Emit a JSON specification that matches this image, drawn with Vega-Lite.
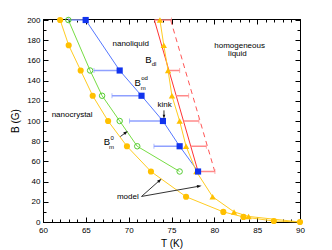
{
  "$schema": "https://vega.github.io/schema/vega-lite/v6.json",
  "autosize": "none",
  "width": 257,
  "height": 203,
  "padding": {"left": 43, "top": 19, "right": 32, "bottom": 28},
  "background": "white",
  "config": {
    "view": {"stroke": "black", "strokeWidth": 1},
    "font": "Liberation Sans",
    "axis": {"grid": false, "labelFont": "Liberation Sans", "titleFont": "Liberation Sans", "labelFontSize": 8, "titleFontSize": 10, "titleFontWeight": "normal", "domainColor": "black", "tickColor": "black", "labelColor": "black", "titleColor": "black"}
  },
  "datasets": {
    "nano": [
      {"T": 62.0, "B": 200}, {"T": 63.0, "B": 175}, {"T": 64.4, "B": 150}, {"T": 65.8, "B": 125},
      {"T": 67.6, "B": 100}, {"T": 69.8, "B": 75}, {"T": 72.6, "B": 50}, {"T": 76.7, "B": 25},
      {"T": 81.05, "B": 10}, {"T": 83.4, "B": 5}, {"T": 86.95, "B": 1}, {"T": 90.0, "B": 0}
    ],
    "tri": [
      {"T": 73.65, "B": 200}, {"T": 74.1, "B": 175}, {"T": 74.6, "B": 150}, {"T": 75.05, "B": 125},
      {"T": 75.95, "B": 100}, {"T": 76.7, "B": 75}, {"T": 77.9, "B": 50}, {"T": 79.8, "B": 25},
      {"T": 82.3, "B": 10}, {"T": 84.0, "B": 5.5}, {"T": 90.0, "B": 0}
    ],
    "green": [
      {"T": 62.96, "B": 200}, {"T": 65.5, "B": 150}, {"T": 66.9, "B": 125},
      {"T": 68.95, "B": 100}, {"T": 71.0, "B": 75}, {"T": 75.95, "B": 50}
    ],
    "blue": [
      {"T": 64.98, "B": 200, "Tlo": 62.96}, {"T": 68.95, "B": 150, "Tlo": 65.95},
      {"T": 71.5, "B": 125, "Tlo": 68.05}, {"T": 74.0, "B": 100, "Tlo": 70.1},
      {"T": 75.95, "B": 75, "Tlo": 72.95}, {"T": 78.1, "B": 50, "Tlo": 78.1}
    ],
    "red": [
      {"T": 73.0, "B": 200, "Thi": 75.0}, {"T": 74.7, "B": 150, "Thi": 75.95},
      {"T": 75.55, "B": 125, "Thi": 77.0}, {"T": 76.4, "B": 100, "Thi": 78.2},
      {"T": 77.25, "B": 75, "Thi": 79.07}, {"T": 78.1, "B": 50, "Thi": 80.07}
    ],
    "dashed": [{"T": 74.9, "B": 200}, {"T": 80.05, "B": 50}],
    "arrows": [
      {"a": "kink", "T": 74.12, "B": 110.5, "T2": 74.12, "B2": 104.5},
      {"a": "bm0", "T": 69.03, "B": 84.6, "T2": 69.65, "B2": 88.5},
      {"a": "model1", "T": 71.5, "B": 25.3, "T2": 73.6, "B2": 41.1},
      {"a": "model2", "T": 71.5, "B": 25.3, "T2": 78.2, "B2": 35.4}
    ],
    "labels": [
      {"T": 70.24, "B": 176, "text": "nanoliquid"},
      {"T": 82.95, "B": 174, "text": "homogeneous"},
      {"T": 82.7, "B": 166, "text": "liquid"},
      {"T": 63.4, "B": 105.5, "text": "nanocrystal"},
      {"T": 69.9, "B": 24.3, "text": "model"},
      {"T": 74.2, "B": 116, "text": "kink"}
    ],
    "bigB": [
      {"T": 72.3, "B": 160, "text": "B"},
      {"T": 71.05, "B": 137.4, "text": "B"},
      {"T": 67.47, "B": 79.2, "text": "B"}
    ],
    "subs": [
      {"T": 72.97, "B": 156, "text": "dl"},
      {"T": 71.85, "B": 143, "text": "od"},
      {"T": 71.7, "B": 133, "text": "m"},
      {"T": 68.07, "B": 82.8, "text": "0"},
      {"T": 68.0, "B": 74.7, "text": "m"}
    ]
  },
  "resolve": {"axis": {"x": "independent", "y": "independent"}},
  "layer": [
    {
      "data": {"name": "dashed"},
      "mark": {"type": "line", "color": "#FF5555", "strokeWidth": 1, "strokeDash": [5, 4]},
      "encoding": {
        "x": {"field": "T", "type": "quantitative", "scale": {"domain": [60, 90], "nice": false, "zero": false},
          "axis": {"orient": "bottom", "title": "T  (K)", "values": [60,61,62,63,64,65,66,67,68,69,70,71,72,73,74,75,76,77,78,79,80,81,82,83,84,85,86,87,88,89,90],
            "labelExpr": "datum.value % 5 === 0 ? datum.label : ''", "tickSize": {"condition": {"test": "datum.value % 5 === 0", "value": -5}, "value": -3},
            "labelPadding": 9, "titlePadding": 2, "labelFlush": false, "labelOverlap": false}},
        "y": {"field": "B", "type": "quantitative", "scale": {"domain": [0, 201], "nice": false},
          "axis": {"orient": "left", "title": "B  (G)", "values": [0,10,20,30,40,50,60,70,80,90,100,110,120,130,140,150,160,170,180,190,200],
            "labelExpr": "datum.value % 20 === 0 ? datum.label : ''", "tickSize": {"condition": {"test": "datum.value % 20 === 0", "value": -5}, "value": -3},
            "labelPadding": 8, "titlePadding": 6, "labelFlush": false, "labelOverlap": false}}
      }
    },
    {
      "data": {"name": "red"},
      "mark": {"type": "line", "color": "#FF3333", "strokeWidth": 1},
      "encoding": {
        "x": {"field": "T", "type": "quantitative",
          "axis": {"orient": "top", "title": null, "labels": false, "domain": true, "values": [60,61,62,63,64,65,66,67,68,69,70,71,72,73,74,75,76,77,78,79,80,81,82,83,84,85,86,87,88,89,90],
            "tickSize": {"condition": {"test": "datum.value % 5 === 0", "value": -5}, "value": -3}}},
        "y": {"field": "B", "type": "quantitative",
          "axis": {"orient": "right", "title": null, "labels": false, "domain": true, "values": [0,10,20,30,40,50,60,70,80,90,100,110,120,130,140,150,160,170,180,190,200],
            "tickSize": {"condition": {"test": "datum.value % 20 === 0", "value": -5}, "value": -3}}},
        "order": {"field": "B"}
      }
    },
    {
      "data": {"name": "red"},
      "mark": {"type": "rule", "color": "#FF8A8A", "strokeWidth": 1.5},
      "encoding": {
        "x": {"field": "T", "type": "quantitative", "axis": null},
        "x2": {"field": "Thi"},
        "y": {"field": "B", "type": "quantitative", "axis": null}
      }
    },
    {
      "data": {"name": "red"},
      "mark": {"type": "tick", "orient": "vertical", "color": "#FF8A8A", "size": 5, "thickness": 1},
      "encoding": {
        "x": {"field": "Thi", "type": "quantitative", "axis": null},
        "y": {"field": "B", "type": "quantitative", "axis": null}
      }
    },
    {
      "data": {"name": "blue"},
      "mark": {"type": "rule", "color": "#8FA0FF", "strokeWidth": 1.5},
      "encoding": {
        "x": {"field": "Tlo", "type": "quantitative", "axis": null},
        "x2": {"field": "T"},
        "y": {"field": "B", "type": "quantitative", "axis": null}
      }
    },
    {
      "data": {"name": "blue"},
      "transform": [{"filter": "datum.B > 50"}],
      "mark": {"type": "tick", "orient": "vertical", "color": "#8FA0FF", "size": 5, "thickness": 1},
      "encoding": {
        "x": {"field": "Tlo", "type": "quantitative", "axis": null},
        "y": {"field": "B", "type": "quantitative", "axis": null}
      }
    },
    {
      "data": {"name": "blue"},
      "mark": {"type": "line", "color": "#5577FF", "strokeWidth": 1},
      "encoding": {
        "x": {"field": "T", "type": "quantitative", "axis": null},
        "y": {"field": "B", "type": "quantitative", "axis": null},
        "order": {"field": "B"}
      }
    },
    {
      "data": {"name": "green"},
      "mark": {"type": "line", "color": "#77DD44", "strokeWidth": 1},
      "encoding": {
        "x": {"field": "T", "type": "quantitative", "axis": null},
        "y": {"field": "B", "type": "quantitative", "axis": null},
        "order": {"field": "B"}
      }
    },
    {
      "data": {"name": "tri"},
      "mark": {"type": "line", "color": "#FFCC22", "strokeWidth": 1},
      "encoding": {
        "x": {"field": "T", "type": "quantitative", "axis": null},
        "y": {"field": "B", "type": "quantitative", "axis": null},
        "order": {"field": "B"}
      }
    },
    {
      "data": {"name": "nano"},
      "mark": {"type": "line", "color": "#FFCC22", "strokeWidth": 1},
      "encoding": {
        "x": {"field": "T", "type": "quantitative", "axis": null},
        "y": {"field": "B", "type": "quantitative", "axis": null},
        "order": {"field": "B"}
      }
    },
    {
      "data": {"name": "tri"},
      "transform": [{"filter": "datum.B > 0"}],
      "mark": {"type": "point", "shape": "triangle-up", "filled": true, "color": "#FFC000", "size": 40, "opacity": 1},
      "encoding": {
        "x": {"field": "T", "type": "quantitative", "axis": null},
        "y": {"field": "B", "type": "quantitative", "axis": null}
      }
    },
    {
      "data": {"name": "nano"},
      "mark": {"type": "point", "shape": "circle", "filled": true, "color": "#FFC000", "size": 38, "opacity": 1},
      "encoding": {
        "x": {"field": "T", "type": "quantitative", "axis": null},
        "y": {"field": "B", "type": "quantitative", "axis": null}
      }
    },
    {
      "data": {"name": "green"},
      "mark": {"type": "point", "shape": "circle", "filled": false, "color": "#55CC33", "size": 30, "strokeWidth": 1, "opacity": 1},
      "encoding": {
        "x": {"field": "T", "type": "quantitative", "axis": null},
        "y": {"field": "B", "type": "quantitative", "axis": null}
      }
    },
    {
      "data": {"name": "blue"},
      "mark": {"type": "point", "shape": "square", "filled": true, "color": "#1133EE", "size": 38, "opacity": 1},
      "encoding": {
        "x": {"field": "T", "type": "quantitative", "axis": null},
        "y": {"field": "B", "type": "quantitative", "axis": null}
      }
    },
    {
      "data": {"name": "arrows"},
      "mark": {"type": "rule", "color": "#333333", "strokeWidth": 1},
      "encoding": {
        "x": {"field": "T", "type": "quantitative", "axis": null},
        "y": {"field": "B", "type": "quantitative", "axis": null},
        "x2": {"field": "T2"},
        "y2": {"field": "B2"}
      }
    },
    {
      "data": {"name": "arrows"},
      "transform": [{"filter": "datum.a === 'kink'"}],
      "mark": {"type": "point", "shape": "M0,-1L0.55,0.7L-0.55,0.7Z", "filled": true, "color": "#111111", "size": 22, "angle": 180, "opacity": 1},
      "encoding": {
        "x": {"field": "T2", "type": "quantitative", "axis": null},
        "y": {"field": "B2", "type": "quantitative", "axis": null}
      }
    },
    {
      "data": {"name": "arrows"},
      "transform": [{"filter": "datum.a === 'bm0'"}],
      "mark": {"type": "point", "shape": "M0,-1L0.55,0.7L-0.55,0.7Z", "filled": true, "color": "#111111", "size": 30, "angle": 53, "opacity": 1},
      "encoding": {
        "x": {"field": "T2", "type": "quantitative", "axis": null},
        "y": {"field": "B2", "type": "quantitative", "axis": null}
      }
    },
    {
      "data": {"name": "arrows"},
      "transform": [{"filter": "datum.a === 'model1'"}],
      "mark": {"type": "point", "shape": "M0,-1L0.55,0.7L-0.55,0.7Z", "filled": true, "color": "#111111", "size": 30, "angle": 48, "opacity": 1},
      "encoding": {
        "x": {"field": "T2", "type": "quantitative", "axis": null},
        "y": {"field": "B2", "type": "quantitative", "axis": null}
      }
    },
    {
      "data": {"name": "arrows"},
      "transform": [{"filter": "datum.a === 'model2'"}],
      "mark": {"type": "point", "shape": "M0,-1L0.55,0.7L-0.55,0.7Z", "filled": true, "color": "#111111", "size": 30, "angle": 80, "opacity": 1},
      "encoding": {
        "x": {"field": "T2", "type": "quantitative", "axis": null},
        "y": {"field": "B2", "type": "quantitative", "axis": null}
      }
    },
    {
      "data": {"name": "labels"},
      "mark": {"type": "text", "fontSize": 8, "color": "black", "align": "center", "baseline": "middle"},
      "encoding": {
        "x": {"field": "T", "type": "quantitative", "axis": null},
        "y": {"field": "B", "type": "quantitative", "axis": null},
        "text": {"field": "text"}
      }
    },
    {
      "data": {"name": "bigB"},
      "mark": {"type": "text", "fontSize": 9.5, "color": "black", "align": "center", "baseline": "middle"},
      "encoding": {
        "x": {"field": "T", "type": "quantitative", "axis": null},
        "y": {"field": "B", "type": "quantitative", "axis": null},
        "text": {"field": "text"}
      }
    },
    {
      "data": {"name": "subs"},
      "mark": {"type": "text", "fontSize": 6, "color": "black", "align": "center", "baseline": "middle"},
      "encoding": {
        "x": {"field": "T", "type": "quantitative", "axis": null},
        "y": {"field": "B", "type": "quantitative", "axis": null},
        "text": {"field": "text"}
      }
    }
  ]
}
